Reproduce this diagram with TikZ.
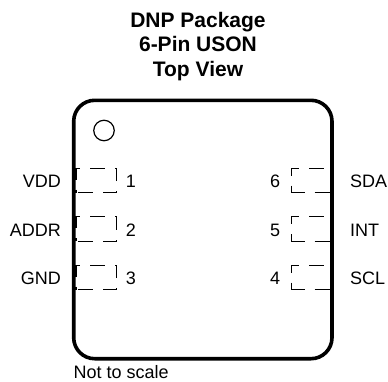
\documentclass[tikz,border=0pt]{standalone}
\usepackage{fontspec}
\setmainfont{Liberation Sans}
\usepackage{tikz}
\usetikzlibrary{positioning}
\tikzset{
	pad/.style={draw, dash pattern=on 15pt off 10pt, dash phase=#1, line width=1.2pt, minimum width=40.7pt, minimum height=24.4pt, inner sep=0pt, outer sep=0pt},
	pin/.style={font=\fontsize{18}{18}\selectfont, inner sep=0pt, yshift=-1pt},
}
\begin{document}
\begin{tikzpicture}[x=1pt, y=-1pt]
\useasboundingbox (0,0) rectangle (388,381);
% package outline
\node[draw, line width=3.6pt, rounded corners=21pt, minimum width=258.3pt, minimum height=258.4pt, inner sep=0pt] (pkg) at (202.85,229.5) {};
\node[draw, line width=1.2pt, circle, minimum size=20.5pt, inner sep=0pt] (dot) at (104,130.5) {};
\node[font=\bfseries\fontsize{21}{24.5}\selectfont, align=center, anchor=base] (title) at (198,76) {DNP Package\\6-Pin USON\\Top View};
\node[font=\fontsize{18}{18}\selectfont, inner sep=0pt, anchor=base west] (note) at (73.5,378) {Not to scale};
% left pads
\node[pad=22.8pt] (p1) at (96.35,180.5) {};
\node[pad=22.8pt] (p2) at (96.35,229) {};
\node[pad=22.8pt] (p3) at (96.35,277.5) {};
% right pads
\node[pad=1.8pt] (p6) at (311.65,180.5) {};
\node[pad=1.8pt] (p5) at (311.65,229) {};
\node[pad=1.8pt] (p4) at (311.65,277.5) {};
% pin numbers
\node[pin, right=9pt of p1] {1};
\node[pin, right=9pt of p2] {2};
\node[pin, right=9pt of p3] {3};
\node[pin, left=11pt of p6] {6};
\node[pin, left=11pt of p5] {5};
\node[pin, left=11pt of p4] {4};
% pin names
\node[pin, left=15pt of p1] {VDD};
\node[pin, left=15pt of p2] {ADDR};
\node[pin, left=15pt of p3] {GND};
\node[pin, right=18pt of p6] {SDA};
\node[pin, right=18pt of p5] {INT};
\node[pin, right=18pt of p4] {SCL};
\end{tikzpicture}
\end{document}
